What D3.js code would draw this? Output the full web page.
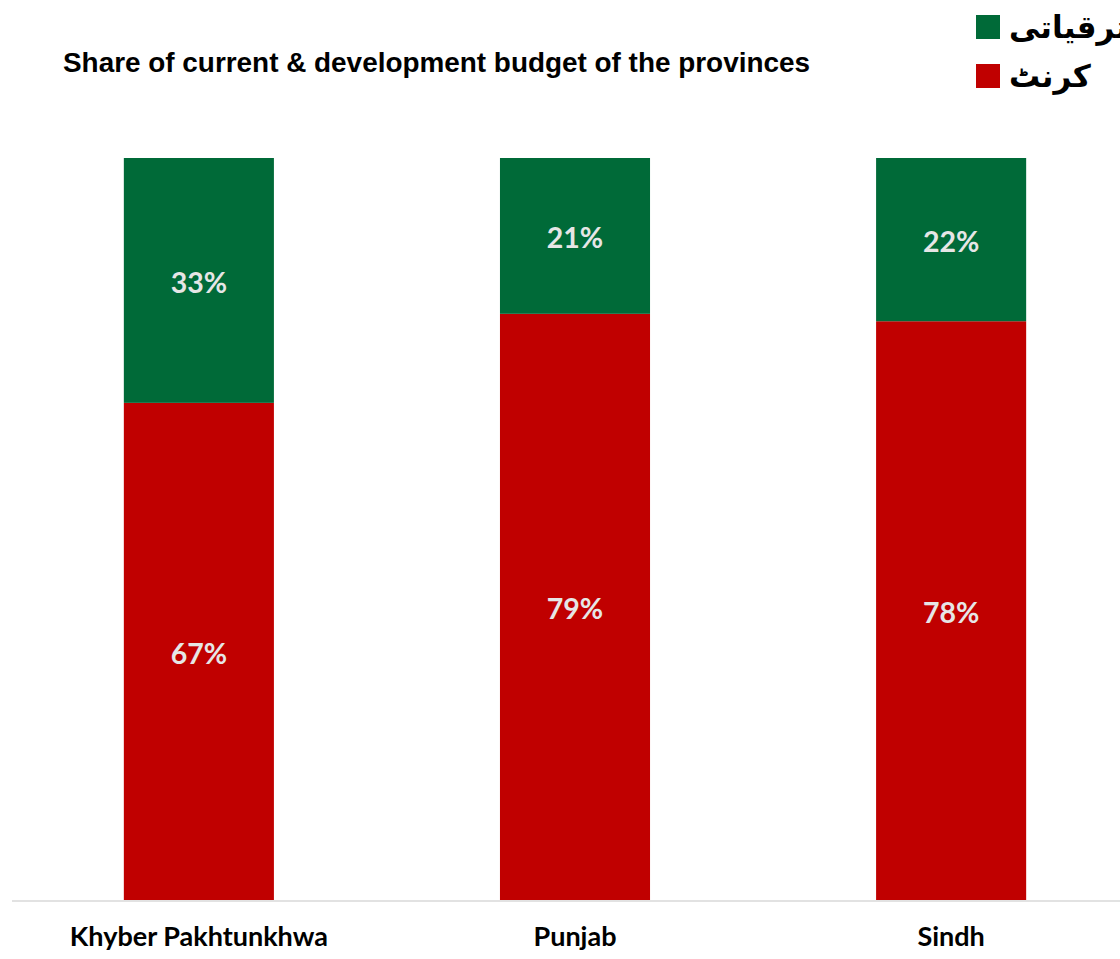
<!DOCTYPE html>
<html><head><meta charset="utf-8">
<script src="https://cdn.jsdelivr.net/npm/d3@7/dist/d3.min.js"></script>
<style>body{margin:0;background:#fff}svg{display:block}</style>
</head><body>
<svg id="c" width="1120" height="959"></svg>
<script>
const categories = ["Khyber Pakhtunkhwa", "Punjab", "Sindh"];
const currentShare = [67, 79, 78];      // کرنٹ
const developmentShare = [33, 21, 22];  // ترقیاتی
const seriesNames = ["ترقیاتی", "کرنٹ"];
const title = "Share of current & development budget of the provinces";

const colors = {current: "#c00000", development: "#006a38"};
const svg = d3.select("#c");

const x = d3.scaleBand().domain(categories).range([11, 1139]).paddingInner(0.601).paddingOuter(0.3);
const y = d3.scaleLinear().domain([0, 100]).range([900, 158]);

const data = categories.map((c, i) => ({cat: c, current: currentShare[i], development: developmentShare[i]}));
const stack = d3.stack().keys(["current", "development"])(data);

const g = svg.append("g");
stack.forEach(layer => {
  g.selectAll(null).data(layer).join("rect")
    .attr("x", d => x(d.data.cat))
    .attr("width", x.bandwidth())
    .attr("y", d => y(d[1]))
    .attr("height", d => y(d[0]) - y(d[1]))
    .attr("fill", colors[layer.key]);
  g.selectAll(null).data(layer).join("text")
    .attr("x", d => x(d.data.cat) + x.bandwidth() / 2)
    .attr("y", d => (y(d[0]) + y(d[1])) / 2 + 2)
    .attr("dy", "0.36em")
    .attr("text-anchor", "middle")
    .attr("font-family", "Lato, 'Open Sans', sans-serif")
    .attr("font-weight", "bold")
    .attr("font-size", 28.5)
    .attr("fill", "#e6e6e6")
    .text(d => (d[1] - d[0]) + "%");
});

// axis
const axis = svg.append("g").attr("transform", "translate(0,901)")
  .call(d3.axisBottom(x).tickSize(0).tickPadding(26));
axis.select(".domain").attr("d", "M12,0H1120").attr("stroke", "#d9d9d9").attr("stroke-width", 1.5);
axis.selectAll(".tick text")
  .attr("font-family", "Lato, 'Open Sans', sans-serif")
  .attr("font-weight", "bold")
  .attr("font-size", 27)
  .attr("fill", "#000");

// title
svg.append("text").attr("x", 63).attr("y", 72)
  .attr("font-family", "'Liberation Sans', Arial, sans-serif")
  .attr("font-weight", "bold").attr("font-size", 27.9).attr("fill", "#000")
  .text(title);

// legend
const legColors = [colors.development, colors.current];
const leg = svg.append("g");
seriesNames.forEach((n, i) => {
  leg.append("rect").attr("x", 976).attr("y", 15 + i * 49).attr("width", 24).attr("height", 24).attr("fill", legColors[i]);
  leg.append("text").attr("x", 1009).attr("y", 38 + i * 49)
    .attr("font-family", "'DejaVu Sans', sans-serif")
    .attr("font-weight", "bold").attr("font-size", 31).attr("fill", "#000")
    .text(n);
});
</script>
</body></html>
